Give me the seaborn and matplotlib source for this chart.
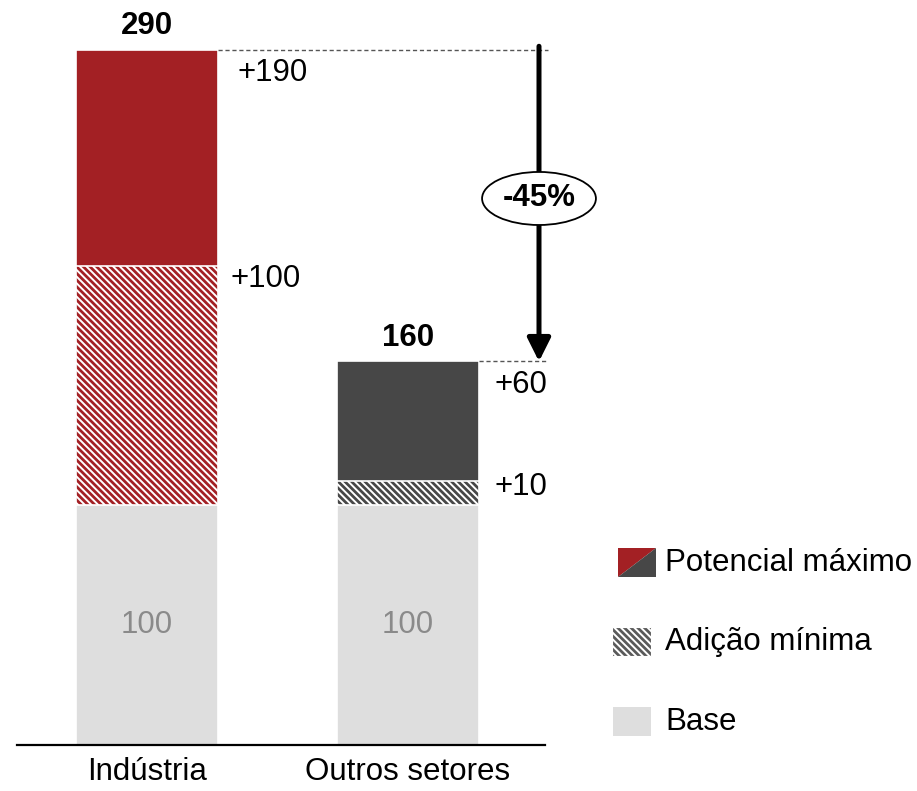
import matplotlib
matplotlib.use("Agg")
import matplotlib.pyplot as plt
from matplotlib.patches import Rectangle, Polygon
import seaborn as sns
import pandas as pd

# ---- data -------------------------------------------------------------
categories = ["Indústria", "Outros setores"]
base_values = [100, 100]          # Base
min_add_values = [100, 10]        # Adição mínima
max_add_values = [90, 50]         # remainder up to Potencial máximo
increment_labels = ["+190", "+60"]
min_add_labels = ["+100", "+10"]
change_label = "-45%"

legend_labels = ["Potencial máximo", "Adição mínima", "Base"]

# ---- style ------------------------------------------------------------
sns.set_theme(style="white")
plt.rcParams["font.family"] = ["Liberation Sans", "DejaVu Sans"]
plt.rcParams["hatch.linewidth"] = 1.4
plt.rcParams["text.color"] = "black"
plt.rcParams["xtick.color"] = "black"

RED = "#A32024"
DARK = "#474747"
LIGHT = "#DEDEDE"
bar_colors = [RED, DARK]
FS = 22.5
HATCH = "\\" * 5

totals = [b + m + x for b, m, x in zip(base_values, min_add_values, max_add_values)]
lower = [b + m for b, m in zip(base_values, min_add_values)]

df = pd.DataFrame({
    "cat": categories,
    "total": totals,
    "lower": lower,
    "base": base_values,
})

W, H = 917, 791
fig = plt.figure(figsize=(W / 100, H / 100), dpi=100)
ax = fig.add_axes([17 / W, (H - 745) / H, 528 / W, 745 / H])

BAR_W = 0.545
pal = dict(zip(categories, bar_colors))

# full stack (top segment visible)
sns.barplot(data=df, x="cat", y="total", hue="cat", palette=pal, width=BAR_W,
            legend=False, ax=ax, edgecolor="white", linewidth=1.2, saturation=1)
n0 = len(ax.patches)
# minimum addition (hatched) segment
sns.barplot(data=df, x="cat", y="lower", hue="cat", palette=pal, width=BAR_W,
            legend=False, ax=ax, edgecolor="white", linewidth=1.2, saturation=1)
for p in ax.patches[n0:]:
    p.set_hatch(HATCH)
# base segment
sns.barplot(data=df, x="cat", y="base", color=LIGHT, width=BAR_W,
            ax=ax, edgecolor="white", linewidth=1.2, saturation=1)

ax.set_xlim(-0.498, 1.525)
ax.set_ylim(0, 310.8)
ax.set_xlabel("")
ax.set_ylabel("")
ax.set_yticks([])
ax.tick_params(axis="x", length=0, pad=9, labelsize=FS, labelcolor="black")
for s in ["top", "left", "right"]:
    ax.spines[s].set_visible(False)
ax.spines["bottom"].set_color("black")
ax.spines["bottom"].set_linewidth(1.6)

half = BAR_W / 2
# value labels
for i in range(len(categories)):
    ax.annotate(f"{totals[i]}", (i, totals[i]), xytext=(0, 17), textcoords="offset points",
                ha="center", va="center", fontsize=FS, fontweight="bold")
    ax.text(i, base_values[i] / 2, f"{base_values[i]}", ha="center", va="center",
            fontsize=FS, color="#8A8A8A")

inc_offsets = [(14, -17), (11, -17)]
min_offsets = [(9, -10), (11, -4)]
for i in range(len(categories)):
    ax.annotate(increment_labels[i], (i + half, totals[i]), xytext=inc_offsets[i],
                textcoords="offset points", ha="left", va="center", fontsize=FS)
    ax.annotate(min_add_labels[i], (i + half, lower[i]), xytext=min_offsets[i],
                textcoords="offset points", ha="left", va="center", fontsize=FS)

# dashed reference lines and the change arrow
x_end = 1.535
ax.hlines(totals[0], half, x_end, colors="#555555", linestyles=(0, (3, 2)),
          linewidth=1, clip_on=False)
ax.hlines(totals[1], 1 + half, x_end, colors="#555555", linestyles=(0, (3, 2)),
          linewidth=1, clip_on=False)
x_arr = 1.502
ax.annotate("", xy=(x_arr, totals[1]), xytext=(x_arr, totals[0] + 1.5),
            arrowprops=dict(arrowstyle="-|>,head_length=0.7,head_width=0.35",
                            lw=3.6, color="black", mutation_scale=20,
                            shrinkA=0, shrinkB=0),
            annotation_clip=False)
ax.text(x_arr, 228, change_label, ha="center", va="center", fontsize=FS,
        fontweight="bold",
        bbox=dict(boxstyle="ellipse,pad=0.12", fc="white", ec="black", lw=1.3))

# ---- legend (figure pixel coordinates) --------------------------------
lax = fig.add_axes([0, 0, 1, 1], zorder=-1)
lax.set_xlim(0, W)
lax.set_ylim(H, 0)
lax.axis("off")

# split swatch
x0, y0, x1, y1 = 618, 548, 656, 577
lax.add_patch(Polygon([(x0, y0), (x1, y0), (x0, y1)], closed=True, fc=RED, ec="none"))
lax.add_patch(Polygon([(x1, y0), (x1, y1), (x0, y1)], closed=True, fc=DARK, ec="none"))
lax.add_patch(Rectangle((612, 627), 39, 29, fc="#5A5A5A", ec="white", lw=0.8,
                        hatch=HATCH))
lax.add_patch(Rectangle((613, 707), 38, 29, fc=LIGHT, ec="none"))
for txt, yc in zip(legend_labels, [563, 642, 722]):
    lax.text(665, yc, txt, ha="left", va="center", fontsize=FS)

fig.savefig("out.png", dpi=100)
